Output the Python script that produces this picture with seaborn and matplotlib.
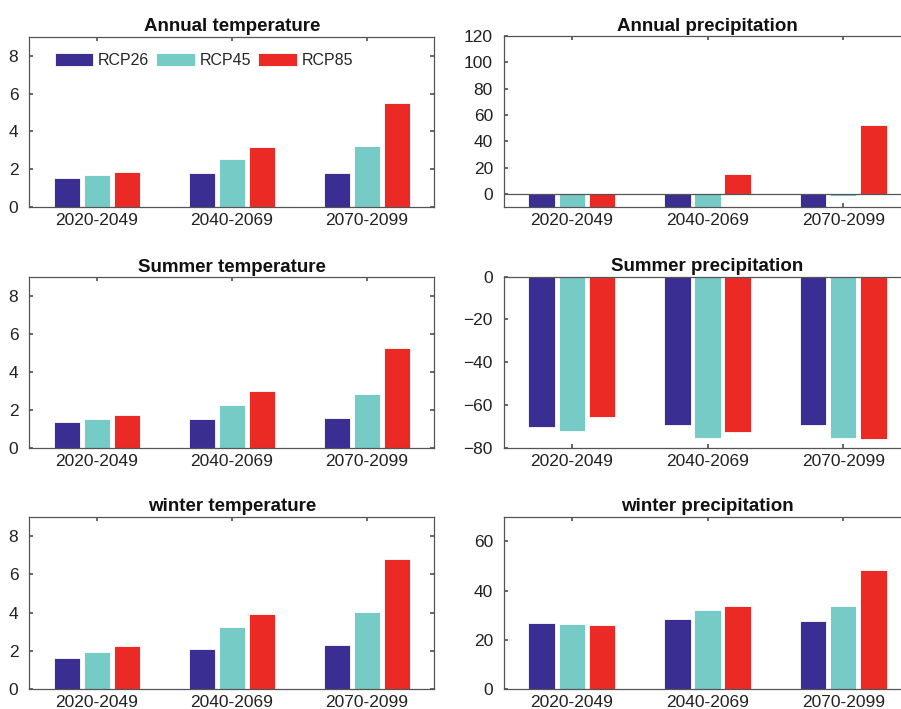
import matplotlib
matplotlib.use("Agg")
import matplotlib.pyplot as plt
import seaborn as sns
import pandas as pd

periods = ["2020-2049", "2040-2069", "2070-2099"]
scenarios = ["RCP26", "RCP45", "RCP85"]
colors = ["#3a2e92", "#76cbc7", "#ec2a25"]

# change per panel, one list per scenario
annual_temp = {"RCP26": [1.53, 1.80, 1.80], "RCP45": [1.71, 2.54, 3.22], "RCP85": [1.85, 3.20, 5.50]}
annual_prec = {"RCP26": [-14, -13, -15], "RCP45": [-16, -11, -1.8], "RCP85": [-12, 15.2, 52.4]}
summer_temp = {"RCP26": [1.40, 1.54, 1.56], "RCP45": [1.52, 2.29, 2.84], "RCP85": [1.72, 3.03, 5.29]}
summer_prec = {"RCP26": [-70.0, -69.2, -69.2], "RCP45": [-72.0, -75.1, -75.1], "RCP85": [-65.3, -72.4, -75.8]}
winter_temp = {"RCP26": [1.62, 2.10, 2.33], "RCP45": [1.93, 3.25, 4.02], "RCP85": [2.23, 3.95, 6.82]}
winter_prec = {"RCP26": [26.7, 28.6, 27.5], "RCP45": [26.6, 32.0, 33.7], "RCP85": [25.9, 33.6, 48.3]}

panels = [
    ("Annual temperature", annual_temp, (0, 9), [0, 2, 4, 6, 8]),
    ("Annual precipitation", annual_prec, (-10, 120), [0, 20, 40, 60, 80, 100, 120]),
    ("Summer temperature", summer_temp, (0, 9), [0, 2, 4, 6, 8]),
    ("Summer precipitation", summer_prec, (-80, 0), [-80, -60, -40, -20, 0]),
    ("winter temperature", winter_temp, (0, 9), [0, 2, 4, 6, 8]),
    ("winter precipitation", winter_prec, (0, 70), [0, 20, 40, 60]),
]


def to_frame(d):
    rows = []
    for s in scenarios:
        for p, v in zip(periods, d[s]):
            rows.append({"period": p, "scenario": s, "value": v})
    return pd.DataFrame(rows)


sns.set_theme(style="white")
plt.rcParams["font.family"] = ["Liberation Sans", "DejaVu Sans"]
axis_col = "#555555"
text_col = "#222222"

fig = plt.figure(figsize=(9.01, 7.09), dpi=100)

# axes boxes (left, bottom, width, height); right column runs past the image edge
positions = [
    (0.0327, 0.708, 0.4495, 0.240),
    (0.5594, 0.708, 0.4517, 0.241),
    (0.0327, 0.368, 0.4495, 0.241),
    (0.5594, 0.368, 0.4517, 0.242),
    (0.0327, 0.028, 0.4495, 0.243),
    (0.5594, 0.028, 0.4517, 0.243),
]

for i, ((title, data, ylim, yticks), pos) in enumerate(zip(panels, positions)):
    ax = fig.add_axes(pos)
    df = to_frame(data)
    sns.barplot(
        data=df, x="period", y="value", hue="scenario", order=periods,
        hue_order=scenarios, palette=colors, width=0.667, gap=0.12,
        saturation=1, ax=ax, legend=(i == 0), errorbar=None,
        edgecolor="white", linewidth=0.6,
    )
    ax.set_xlim(-0.5, 2.5)
    ax.set_ylim(*ylim)
    ax.set_yticks(yticks)
    ax.set_xlabel("")
    ax.set_ylabel("")
    ax.set_title(title, fontsize=13.5, fontweight="bold", color="#111111", pad=4)
    ax.tick_params(axis="both", direction="in", length=3, color=axis_col,
                   labelsize=12.5, labelcolor=text_col, top=True, right=True,
                   bottom=True, left=True)
    ax.tick_params(axis="x", pad=4)
    ax.tick_params(axis="y", pad=8)
    for sp in ax.spines.values():
        sp.set_visible(True)
        sp.set_color(axis_col)
        sp.set_linewidth(0.9)
    if ylim[0] < 0 < ylim[1]:
        ax.axhline(0, color=axis_col, lw=0.9, zorder=5)
    if i == 0:
        ax.legend(loc="upper left", ncol=3, frameon=False, fontsize=11.5,
                  handlelength=2.4, handleheight=0.9, handletextpad=0.3,
                  columnspacing=0.45, borderaxespad=0.3,
                  bbox_to_anchor=(0.035, 0.97))

fig.savefig("out.png", dpi=100)
